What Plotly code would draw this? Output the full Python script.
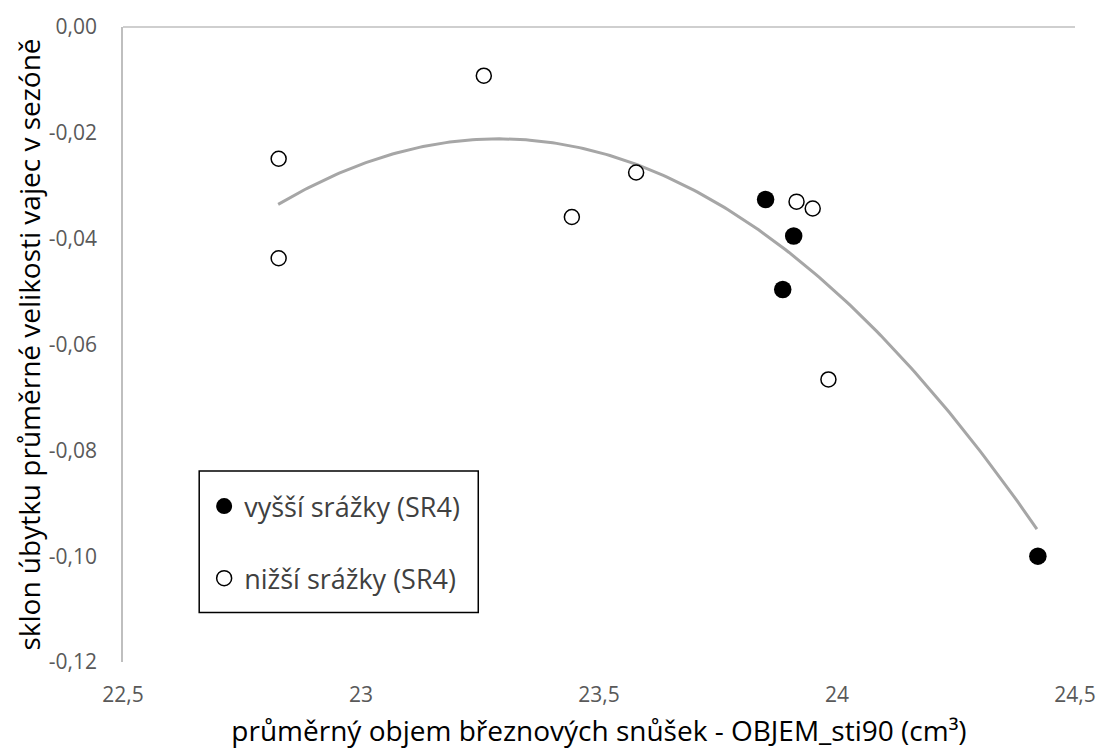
import numpy as np
import plotly.graph_objects as go

# data
x_high = [23.850, 23.909, 23.886, 24.422]
y_high = [-0.0326, -0.0395, -0.0496, -0.1000]
x_low = [22.827, 22.827, 23.258, 23.443, 23.578, 23.915, 23.949, 23.982]
y_low = [-0.0249, -0.0437, -0.0092, -0.0359, -0.0275, -0.0330, -0.0343, -0.0666]
name_high = "vyšší srážky (SR4)"
name_low = "nižší srážky (SR4)"
x_title = "průměrný objem březnových snůšek - OBJEM_sti90 (cm³)"
y_title = "sklon úbytku průměrné velikosti vajec v sezóně"

# polynomial (order 2) trendline
trend_x = [22.826, 23.284, 23.672, 23.908, 24.074, 24.240, 24.420]
trend_y = [-0.0335, -0.0211, -0.0300, -0.0428, -0.0568, -0.0730, -0.0951]

y_tickvals = [0, -0.02, -0.04, -0.06, -0.08, -0.10, -0.12]
y_ticktext = ["0,00", "-0,02", "-0,04", "-0,06", "-0,08", "-0,10", "-0,12"]

coef = np.polyfit(trend_x, trend_y, 2)
tx = np.linspace(min(trend_x), max(trend_x), 200)
ty = np.polyval(coef, tx)

FONT = "Open Sans"

fig = go.Figure()
fig.add_trace(go.Scatter(x=tx, y=ty, mode="lines", line=dict(color="#a6a6a6", width=3),
                         showlegend=False, hoverinfo="skip"))
fig.add_trace(go.Scatter(x=x_high, y=y_high, mode="markers", name=name_high, legendgroup="a",
                         marker=dict(symbol="circle", size=17.5, color="black", line=dict(width=0))))
fig.add_trace(go.Scatter(x=x_low, y=y_low, mode="markers", name=name_low, legendgroup="b",
                         marker=dict(symbol="circle", size=15, color="white",
                                     line=dict(color="black", width=1.5))))

# top axis line (x axis crosses at y=0)
fig.add_shape(type="line", xref="paper", yref="paper", x0=0, x1=1, y0=1, y1=1,
              line=dict(color="#bfbfbf", width=1.5))
# legend frame
fig.add_shape(type="rect", xref="paper", yref="paper",
              x0=(200 - 123) / 962, x1=(482 - 123) / 962,
              y0=(665 - 615) / 642, y1=(665 - 472) / 642,
              line=dict(color="black", width=1.5), fillcolor="white", layer="below")

fig.update_layout(
    width=1108, height=754,
    margin=dict(l=123, r=23, t=23, b=89),
    paper_bgcolor="white", plot_bgcolor="rgba(0,0,0,0)",
    separators=", ",
    font=dict(family=FONT, color="#595959"),
    showlegend=True,
    legend=dict(x=(205 - 123) / 962, y=(665 - 483) / 642, xanchor="left", yanchor="top",
                bgcolor="rgba(0,0,0,0)", borderwidth=0, tracegroupgap=34,
                font=dict(size=27, color="#404040", family=FONT)),
    xaxis=dict(range=[22.5, 24.5], dtick=0.5, tick0=22.5, showgrid=False, zeroline=False,
               showline=False, ticks="", ticklabelstandoff=18,
               tickfont=dict(size=21, color="#595959"),
               title=dict(text=x_title, font=dict(size=28, color="#000000"), standoff=14)),
    yaxis=dict(range=[-0.12, 0], tickvals=y_tickvals, ticktext=y_ticktext, showgrid=False,
               zeroline=False, showline=True, linecolor="#bfbfbf", linewidth=1.5, ticks="",
               ticklabelstandoff=20, tickfont=dict(size=21, color="#595959"),
               title=dict(text=y_title, font=dict(size=28, color="#000000"), standoff=0)),
)
fig.write_html("out.html")
